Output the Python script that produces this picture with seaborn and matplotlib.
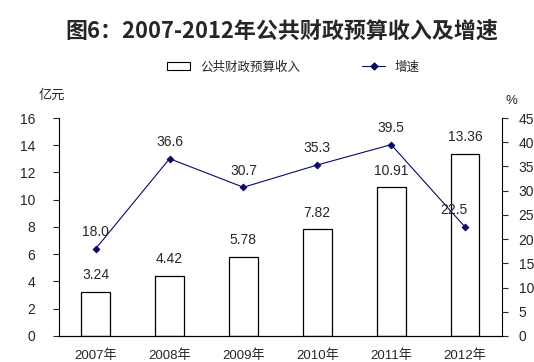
import matplotlib
matplotlib.use("Agg")
import matplotlib.pyplot as plt
import seaborn as sns
from matplotlib.patches import Patch
from matplotlib.lines import Line2D

years = ["2007年", "2008年", "2009年", "2010年", "2011年", "2012年"]
revenue = [3.24, 4.42, 5.78, 7.82, 10.91, 13.36]
growth = [18.0, 36.6, 30.7, 35.3, 39.5, 22.5]
revenue_labels = ["3.24", "4.42", "5.78", "7.82", "10.91", "13.36"]
growth_labels = ["18.0", "36.6", "30.7", "35.3", "39.5", "22.5"]

sns.set_style("white")
plt.rcParams["font.family"] = ["Liberation Sans", "Noto Sans CJK SC", "DejaVu Sans"]
navy = "#0a0a66"

fig = plt.figure(figsize=(5.34, 3.62), dpi=100)
ax = fig.add_axes([0.110, 0.072, 0.830, 0.602])

sns.barplot(x=years, y=revenue, ax=ax, color="white", edgecolor="black",
            linewidth=0.9, width=0.39, saturation=1)
ax.set_ylim(0, 16)
ax.set_yticks(range(0, 17, 2))
ax.set_xlim(-0.5, 5.5)

ax2 = ax.twinx()
sns.pointplot(x=years, y=growth, ax=ax2, color=navy, marker="D",
              markersize=3.5, linewidth=0.8)
ax2.set_ylim(0, 45)
ax2.set_yticks(range(0, 46, 5))
ax2.set_xlim(-0.5, 5.5)

for i, (v, lab) in enumerate(zip(revenue, revenue_labels)):
    ax.annotate(lab, (i, v), xytext=(0, 7), textcoords="offset points",
                ha="center", va="bottom", fontsize=10)
for i, (v, lab) in enumerate(zip(growth, growth_labels)):
    dx = -8 if i == 5 else 0
    ax2.annotate(lab, (i, v), xytext=(dx, 7), textcoords="offset points",
                 ha="center", va="bottom", fontsize=10)

for a in (ax, ax2):
    a.set_xlabel("")
    a.set_ylabel("")
    a.spines["top"].set_visible(False)
    for s in a.spines.values():
        s.set_color("black")
        s.set_linewidth(0.8)
ax.spines["right"].set_visible(False)
ax2.spines["left"].set_visible(False)

ax.tick_params(axis="y", left=True, direction="out", length=4, width=0.8,
               labelsize=10, pad=13)
ax.tick_params(axis="x", bottom=False, labelsize=9.5, pad=6)
ax2.tick_params(axis="y", right=True, direction="out", length=4, width=0.8,
                labelsize=10, pad=8)

fig.text(0.097, 0.726, "亿元", fontsize=9.5, ha="center",
         family=["Noto Sans CJK SC", "DejaVu Sans"])
fig.text(0.958, 0.714, "%", fontsize=9.5, ha="center")

fig.text(0.528, 0.913, "图6：2007-2012年公共财政预算收入及增速", fontsize=15.8,
         ha="center", va="center", fontweight="bold",
         family=["Noto Sans CJK SC", "DejaVu Sans"])

handles = [Patch(facecolor="white", edgecolor="black", linewidth=0.8),
           Line2D([0], [0], color=navy, marker="D", markersize=3.5, linewidth=0.8)]
fig.legend(handles, ["公共财政预算收入", "增速"], loc="center",
           bbox_to_anchor=(0.55, 0.815), ncol=2, frameon=False,
           columnspacing=5.0, handlelength=1.8, handleheight=0.5,
           prop={"family": ["Noto Sans CJK SC", "DejaVu Sans"], "size": 9})

fig.savefig("out.png", dpi=100)
